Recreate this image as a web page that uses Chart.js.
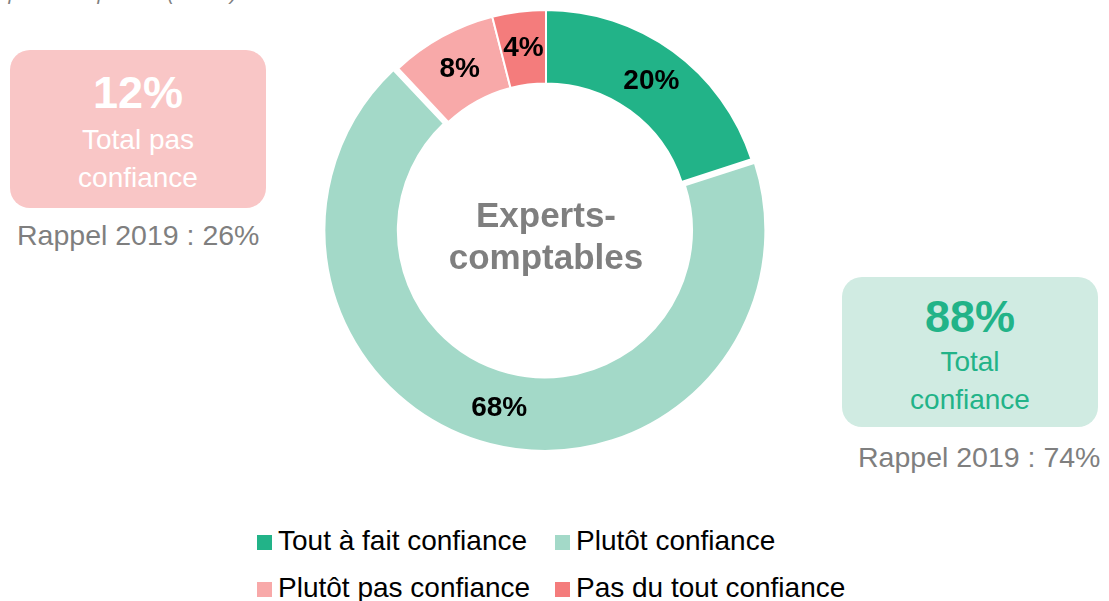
<!DOCTYPE html>
<html lang="fr">
<head>
<meta charset="UTF-8">
<title>Confiance - Experts-comptables</title>
<script src="https://cdn.jsdelivr.net/npm/chart.js"></script>
<style>
    body { margin: 0; width: 1109px; height: 601px; position: relative; overflow: hidden; background: #fff;
           font-family: "Liberation Sans", Arial, sans-serif; }
    .abs { position: absolute; white-space: nowrap; }
    #donutWrap { position: absolute; left: 320px; top: 0px; width: 452px; height: 452px; }
    .box { position: absolute; border-radius: 20px; }
    .big { font-weight: bold; font-size: 45px; line-height: 45px; text-align: center; }
    .med { font-size: 28px; line-height: 28px; text-align: center; }
    .rappel { font-size: 28.5px; line-height: 28px; color: #7f7f7f; }
    .center { font-weight: bold; font-size: 35px; line-height: 35px; color: #7f7f7f; text-align: center; width: 300px; left: 396px; }
    #legend { position: absolute; left: 257px; top: 527px; display: grid; grid-template-columns: 298px auto; row-gap: 19px; }
    .item { display: flex; align-items: center; font-size: 28px; line-height: 28px; color: #000; }
    .sw { width: 15px; height: 15px; margin-right: 6px; margin-top: 2px; }
</style>
</head>
<body>
<div class="abs" style="right:872px; top:-17px; font-size:20px; line-height:20px; font-style:italic; color:#7f7f7f;">Base : Experts-comptables (n=300)</div>

<div class="box" style="left:10px; top:50px; width:256px; height:158px; background:#f9c6c6;"></div>
<div class="abs big" style="left:10px; width:256px; top:70px; color:#fff;">12%</div>
<div class="abs med" style="left:10px; width:256px; top:126px; color:#fff;">Total pas</div>
<div class="abs med" style="left:10px; width:256px; top:164px; color:#fff;">confiance</div>
<div class="abs rappel" style="left:17px; top:221px;">Rappel 2019 : 26%</div>

<div class="box" style="left:842px; top:277px; width:256px; height:150px; background:#d0ebe2;"></div>
<div class="abs big" style="left:842px; width:256px; top:294px; color:#22b388;">88%</div>
<div class="abs med" style="left:842px; width:256px; top:348px; color:#22b388;">Total</div>
<div class="abs med" style="left:842px; width:256px; top:386px; color:#22b388;">confiance</div>
<div class="abs rappel" style="left:858px; top:443px;">Rappel 2019 : 74%</div>

<div id="donutWrap"><canvas id="donutChart" width="452" height="452"></canvas></div>
<div class="abs center" style="top:197px;">Experts-</div>
<div class="abs center" style="top:239px;">comptables</div>

<div id="legend"></div>

<script>
    const categories = ['Tout à fait confiance', 'Plutôt confiance', 'Plutôt pas confiance', 'Pas du tout confiance'];
    const values = [20, 68, 8, 4];
    const colors = ['#22b388', '#a3d9c8', '#f8a9a9', '#f47c7c'];
    // large slices are only translated by offset/2
    const offsets = [0, 18, 0, 0];

    // data labels drawn at each arc's centre point
    const labelPlugin = {
        id: 'sliceLabels',
        afterDatasetsDraw(chart) {
            const ctx = chart.ctx;
            const meta = chart.getDatasetMeta(0);
            ctx.save();
            ctx.font = 'bold 28px "Liberation Sans", Arial, sans-serif';
            ctx.fillStyle = '#000';
            ctx.textAlign = 'center';
            ctx.textBaseline = 'middle';
            meta.data.forEach((arc, i) => {
                const p = arc.tooltipPosition();
                ctx.fillText(values[i] + '%', p.x, p.y);
            });
            ctx.restore();
        }
    };

    const donutChart = new Chart(document.getElementById('donutChart').getContext('2d'), {
        type: 'doughnut',
        data: {
            labels: categories,
            datasets: [{
                data: values,
                backgroundColor: colors,
                borderColor: '#ffffff',
                borderWidth: 2,
                offset: offsets,
                hoverOffset: 0
            }]
        },
        options: {
            responsive: false,
            animation: false,
            cutout: '66%',
            layout: { padding: 0 },
            plugins: {
                legend: { display: false },
                tooltip: { enabled: false }
            }
        },
        plugins: [labelPlugin]
    });

    const legendEl = document.getElementById('legend');
    categories.forEach((name, i) => {
        const item = document.createElement('div');
        item.className = 'item';
        item.innerHTML = '<span class="sw" style="background:' + colors[i] + '"></span>' + name;
        legendEl.appendChild(item);
    });
</script>
</body>
</html>
